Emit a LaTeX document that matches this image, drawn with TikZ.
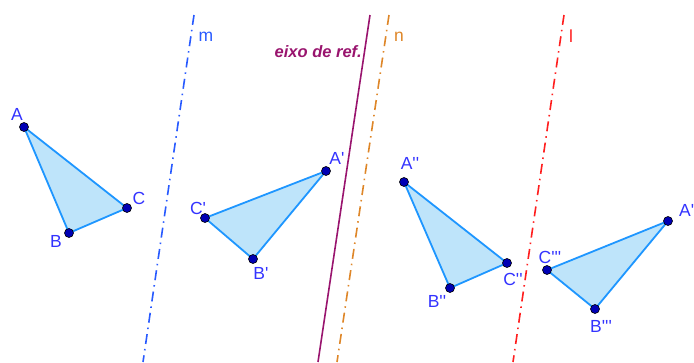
\documentclass[tikz,border=0pt]{standalone}
\usepackage{fontspec}
\setmainfont{Liberation Sans}
\usepackage{xcolor}
\usepackage{tikz}
\usetikzlibrary{positioning}

\definecolor{ptblue}{RGB}{0,0,180}
\definecolor{lblblue}{RGB}{51,51,255}
\definecolor{edgeblue}{RGB}{30,150,255}
\definecolor{fillblue}{RGB}{190,228,250}
\definecolor{mblue}{RGB}{40,90,255}
\definecolor{nor}{RGB}{222,134,40}
\definecolor{lred}{RGB}{255,30,30}
\definecolor{refpurple}{RGB}{153,20,110}

\newcommand{\pr}{\textquotesingle}

\begin{document}
\begin{tikzpicture}[x=1pt,y=-1pt,
  pt/.style={circle,draw=black,fill=ptblue,line width=0.6pt,inner sep=0pt,minimum size=9pt},
  lbl/.style={text=lblblue,font=\fontsize{17.5}{17.5}\selectfont,inner sep=0pt},
  tri/.style={draw=edgeblue,fill=fillblue,line width=1.8pt,line join=round},
  dashdot/.style={line width=1.6pt,dash pattern=on 10pt off 5pt on 1.5pt off 5pt}]
  \useasboundingbox (0,0) rectangle (694,362);
  \clip (0,0) rectangle (694,362);

  % axes of reflection
  \coordinate (m1) at (194,15);  \coordinate (m2) at (143,362);
  \coordinate (e1) at (370,15);  \coordinate (e2) at (318,362);
  \coordinate (n1) at (389,15);  \coordinate (n2) at (337,362);
  \coordinate (l1) at (564,15);  \coordinate (l2) at (513,362);
  \draw[mblue, dashdot] (m1) -- (m2);
  \draw[refpurple, line width=1.6pt] (e1) -- (e2);
  \draw[nor, dashdot] (n1) -- (n2);
  \draw[lred, dashdot] (l1) -- (l2);

  \node[lbl, text=mblue] (lm) at (206,37) {m};
  \node[lbl, text=nor] (ln) at (399,37) {n};
  \node[lbl, text=lred] (ll) at (571,36) {l};
  \node[text=refpurple, font=\fontsize{16.5}{16.5}\selectfont\bfseries\itshape,
        anchor=east, inner sep=0pt] (lref) at (362,52) {eixo de ref.};

  % vertices
  \foreach \n/\x/\y in {A/24/127, B/69/233, C/127/208,
                        A1/326/171, B1/253/259, C1/205/218,
                        A2/404/182, B2/450/288, C2/507/263,
                        A3/668/221, B3/595/309, C3/547/270}
    \coordinate (\n) at (\x,\y);

  % triangles
  \foreach \k in {,1,2,3}
    \filldraw[tri] (A\k) -- (B\k) -- (C\k) -- cycle;

  \foreach \k in {,1,2,3}
    \foreach \v in {A,B,C}
      \node[pt] (p\v\k) at (\v\k) {};

  % labels
  \node[lbl] (lA) at (17,114) {A};
  \node[lbl] (lB) at (56,241) {B};
  \node[lbl] (lC) at (139,198) {C};
  \node[lbl] (lA1) at (337,158) {A\pr};
  \node[lbl] (lB1) at (261,273) {B\pr};
  \node[lbl] (lC1) at (198,208) {C\pr};
  \node[lbl] (lA2) at (410,163) {A\pr\pr};
  \node[lbl] (lB2) at (437,301) {B\pr\pr};
  \node[lbl] (lC2) at (513,279) {C\pr\pr};
  \node[lbl, anchor=west] (lA3) at (679,210) {A\pr\pr\pr};
  \node[lbl] (lB3) at (601,326) {B\pr\pr\pr};
  \node[lbl] (lC3) at (550,257) {C\pr\pr\pr};
\end{tikzpicture}
\end{document}
